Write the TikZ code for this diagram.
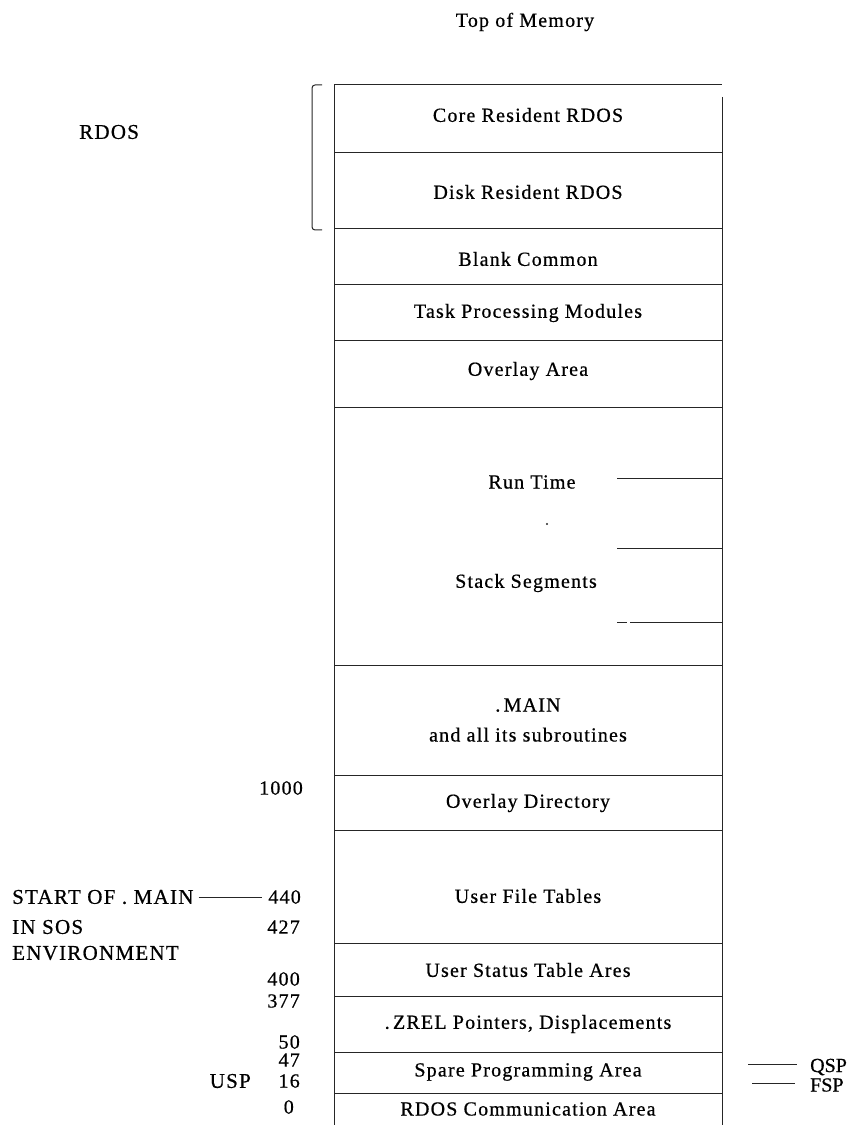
\documentclass[tikz,border=0pt]{standalone}
\usepackage{fontspec}
\setmainfont{Liberation Serif}
\newfontfamily\boxfont[LetterSpace=6,FakeBold=0.6]{Liberation Serif}
\newfontfamily\sidefont[LetterSpace=6,FakeBold=0.6]{Liberation Serif}
\newfontfamily\plainfont[FakeBold=0.6]{Liberation Serif}
\begin{document}
\begin{tikzpicture}[x=1pt,y=-1pt,
  rule/.style={line width=1pt,draw=black!85},
  lbl/.style={font=\boxfont\fontsize{20}{24}\selectfont,inner sep=0pt,anchor=center,align=center},
  side/.style={font=\sidefont\fontsize{21}{24}\selectfont,inner sep=0pt},
  num/.style={font=\sidefont\fontsize{20}{24}\selectfont,inner sep=0pt,anchor=east}]
\useasboundingbox (0,0) rectangle (852,1131);
% title
\node[lbl] (top) at (525,22) {Top of Memory};
% outer box
\draw[rule] (334,85) -- (722,85);
\draw[rule] (334,85) -- (334,1125);
\draw[rule] (722,97) -- (722,1125);
\foreach \yy in {153,229,285,340,407,665,775,830,943,996,1052,1093}
  \draw[rule] (335,\yy) -- (722,\yy);
% bracket
\draw[rule,rounded corners=3pt] (322,85) -- (312,85) -- (312,230) -- (322,230);
\node[side,anchor=west] (rdos) at (79,132) {RDOS};
% box labels
\node[lbl] (core) at (528,115) {Core Resident RDOS};
\node[lbl] (disk) at (528,192) {Disk Resident RDOS};
\node[lbl] (blank) at (528,259) {Blank Common};
\node[lbl] (tpm) at (528,313) {Task Processing Modules};
\node[lbl] (ovl) at (528,371) {Overlay Area};
\node[lbl] (run) at (532,482) {Run Time};
\node[lbl] (stack) at (526,583) {Stack Segments};
\node[lbl] (main) at (528,720) {.\,MAIN\\[6pt]and all its subroutines};
\node[lbl] (ovd) at (528,803) {Overlay Directory};
\node[lbl] (uft) at (528,896) {User File Tables};
\node[lbl] (ust) at (528,970) {User Status Table Ares};
\node[lbl] (zrel) at (528,1024) {.\,ZREL Pointers, Displacements};
\node[lbl] (spare) at (528,1072) {Spare Programming Area};
\node[lbl] (comm) at (528,1109) {RDOS Communication Area};
% stack segment ticks
\coordinate (t1) at (617,478);
\coordinate (t2) at (617,548);
\coordinate (t3a) at (617,622);
\coordinate (t3b) at (630,622);
\draw[rule] (t1) -- (722,478);
\draw[rule] (t2) -- (722,548);
\draw[rule] (t3a) -- (627,622);
\draw[rule] (t3b) -- (722,622);
\fill[black!85] (547,524) circle (1.2pt);
% left addresses
\node[num] (n1000) at (303,788) {1000};
\node[side,anchor=west] (start) at (12,897) {START OF . MAIN};
\node[num] (n440) at (301,897) {440};
\draw[rule] ([xshift=5pt]start.east) -- ([xshift=-6pt]n440.west);
\node[side,anchor=west] (insos) at (12,927) {IN SOS};
\node[num] (n427) at (300,927) {427};
\node[side,anchor=west] (env) at (12,953) {ENVIRONMENT};
\node[num] (n400) at (300,979) {400};
\node[num] (n377) at (300,1001) {377};
\node[num] (n50) at (300,1042) {50};
\node[num] (n47) at (300,1060) {47};
\node[num] (n16) at (300,1081) {16};
\node[side,anchor=east] (usp) at (251,1081) {USP};
\node[num] (n0) at (294,1107) {0};
% right pointers
\node[anchor=west,inner sep=0pt,font=\plainfont\fontsize{20}{24}\selectfont] (qsp) at (810,1067) {QSP};
\node[anchor=west,inner sep=0pt,font=\plainfont\fontsize{20}{24}\selectfont] (fsp) at (810,1085) {FSP};
\coordinate (q0) at (748,1064);
\coordinate (f0) at (752,1083);
\draw[rule] (q0) -- ([xshift=-13pt]qsp.west |- q0);
\draw[rule] (f0) -- ([xshift=-15pt]fsp.west |- f0);
\end{tikzpicture}
\end{document}
